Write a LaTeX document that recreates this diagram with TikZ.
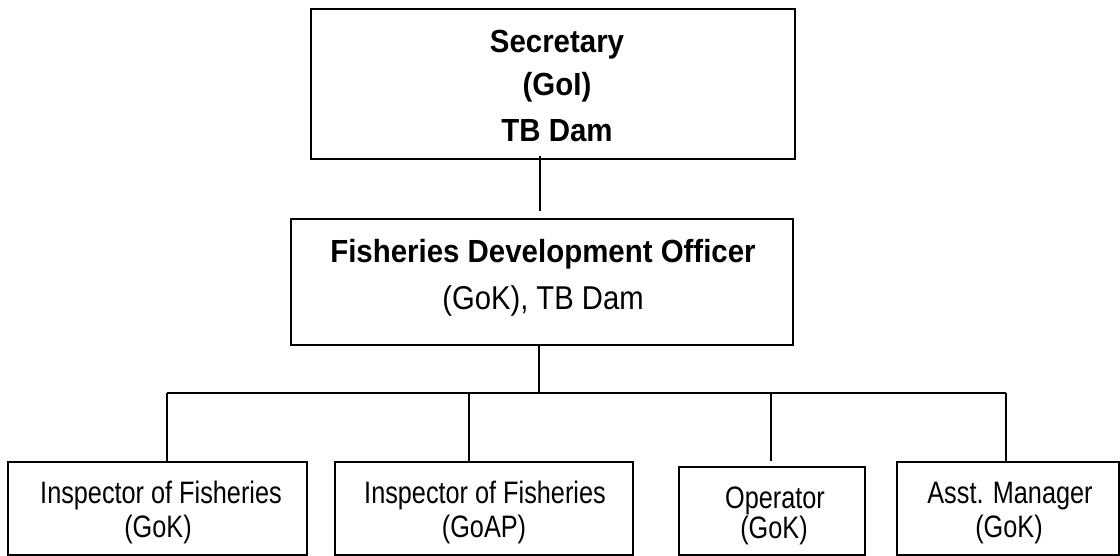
\documentclass[tikz,border=0pt]{standalone}
\usepackage{fontspec}
\newfontfamily\fB{Liberation Sans}[FakeStretch=0.92]
\newfontfamily\fM{Liberation Sans}[FakeStretch=0.885]
\newfontfamily\fS{Liberation Sans}[FakeStretch=0.815]
\begin{document}
\begin{tikzpicture}[x=1pt,y=-1pt,
  box/.style={draw=black,line width=1.6pt,inner sep=0pt,rectangle},
  conn/.style={draw=black,line width=1.6pt},
  hb/.style={anchor=base,inner sep=0pt,font=\fB\bfseries\fontsize{32}{38}\selectfont},
  hm/.style={anchor=base,inner sep=0pt,font=\fM\fontsize{33}{39}\selectfont},
  hs/.style={anchor=base,inner sep=0pt,font=\fS\fontsize{31}{37}\selectfont}]
\useasboundingbox (0,0) rectangle (1120,556);
% boxes
\node[box,minimum width=484pt,minimum height=150pt] (top) at (553,84) {};
\node[box,minimum width=502pt,minimum height=126pt] (mid) at (542,282) {};
\node[box,minimum width=299pt,minimum height=93pt] (b1) at (157.5,508.5) {};
\node[box,minimum width=298pt,minimum height=93pt] (b2) at (484,508.5) {};
\node[box,minimum width=186pt,minimum height=88pt] (b3) at (772,511) {};
\node[box,minimum width=222pt,minimum height=93pt] (b4) at (1008,508.5) {};
% texts
\node[hb] (t1) at (557,53) {Secretary};
\node[hb] (t2) at (557,96) {(GoI)};
\node[hb] (t3) at (557,142) {TB Dam};
\node[hb] (m1) at (543,263) {Fisheries Development Officer};
\node[hm] (m2) at (543,309) {(GoK), TB Dam};
\node[hs] (a1) at (161,503) {Inspector of Fisheries};
\node[hs] (a2) at (158,537) {(GoK)};
\node[hs] (c1) at (485,503) {Inspector of Fisheries};
\node[hs] (c2) at (484,537) {(GoAP)};
\node[hs] (d1) at (775,508) {Operator};
\node[hs] (d2) at (774,538) {(GoK)};
\node[hs] (e1) at (1010,503) {Asst. Manager};
\node[hs] (e2) at (1009,537) {(GoK)};
% junction points on the bar
\coordinate (j0) at (539,393);
\coordinate (j1) at (167,393);
\coordinate (j2) at (469,393);
\coordinate (j3) at (771,393);
\coordinate (j4) at (1006,393);
% connectors
\draw[conn] ([xshift=-13pt,yshift=4pt]top.south) -- ([xshift=-2pt,yshift=7pt]mid.north);
\draw[conn] (mid.south -| j0) -- (j0);
\draw[conn] (j1) -- (j4);
\draw[conn] (j1) -- (j1 |- b1.north);
\draw[conn] (j2) -- (j2 |- b2.north);
\draw[conn] (j3) -- ([yshift=5pt]j3 |- b3.north);
\draw[conn] (j4) -- (j4 |- b4.north);
\end{tikzpicture}
\end{document}
